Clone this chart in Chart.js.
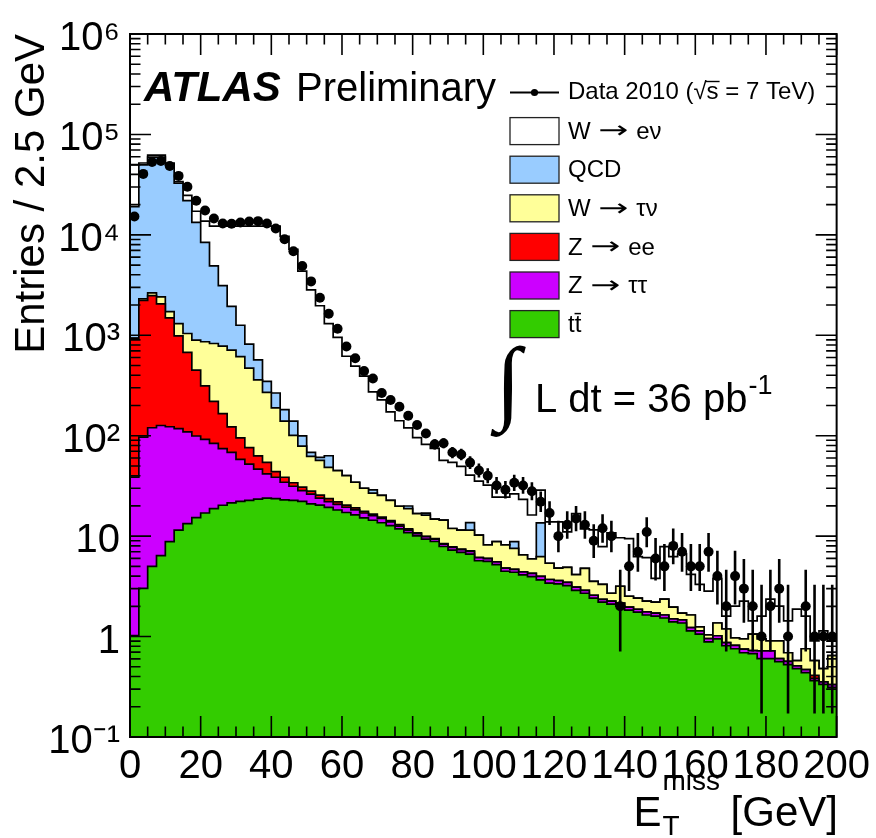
<!DOCTYPE html>
<html>
<head>
<meta charset="utf-8">
<script src="https://cdn.jsdelivr.net/npm/chart.js@4/dist/chart.umd.min.js"></script>
<style>
html,body{margin:0;padding:0;background:#fff;}
#wrap{position:relative;width:876px;height:838px;}
</style>
</head>
<body>
<div id="wrap"><canvas id="c" width="876" height="838"></canvas></div>
<script>
// ---------------- data ----------------
const binWidth = 2.5;            // GeV
const nBins = 80;                // 0 .. 200 GeV
const binEdges = Array.from({length: nBins + 1}, (_, i) => i * binWidth);
const binCenters = binEdges.slice(0, nBins).map(e => e + binWidth / 2);

const xTickValues = [0, 20, 40, 60, 80, 100, 120, 140, 160, 180, 200];
const xTickLabels = ['0', '20', '40', '60', '80', '100', '120', '140', '160', '180', '200'];
const yTickValues = [0.1, 1, 10, 100, 1e3, 1e4, 1e5, 1e6];
const yTickLabels = ['10\u207B\u00B9', '1', '10', '10\u00B2', '10\u00B3', '10\u2074', '10\u2075', '10\u2076'];

const dataCounts = [15240, 40460, 53200, 54370, 48500, 38650, 30100, 21900, 17450, 14560,
  13000, 12900, 13290, 13600, 13700, 13000, 11590, 9030, 6870, 4890,
  3440, 2360, 1640, 1160, 774, 590, 440, 372, 266, 227,
  194, 158, 128, 105, 82, 84, 68, 65, 54, 45,
  40, 32, 29, 34, 32, 28, 22, 17, 10, 13,
  15, 13, 9, 12, 10, 2, 5, 7, 11, 6,
  5, 8, 7, 5, 5, 7, 4, 2, 4, 3,
  2, 1, 2, 3, 1, 0, 2, 1, 1, 1];

const ttbar = [1.02, 3.02, 4.99, 6.4, 8.8, 11.5, 13.3, 15.3, 17.0, 18.8,
  20.3, 21.4, 22.2, 22.7, 23.4, 23.9, 23.6, 23.0, 22.7, 22.2,
  21.0, 20.4, 19.3, 18.2, 17.2, 16.3, 15.2, 14.4, 13.6, 12.7,
  11.8, 10.85, 10.05, 9.32, 8.84, 7.89, 7.26, 6.89, 6.63, 5.69,
  5.62, 5.2, 4.47, 4.37, 4.11, 3.96, 3.67, 3.4, 3.35, 3.22,
  2.88, 2.70, 2.41, 2.20, 2.10, 2.01, 1.835, 1.75, 1.64, 1.60,
  1.53, 1.40, 1.365, 1.14, 1.06, 0.886, 0.949, 0.81, 0.756, 0.69,
  0.675, 0.602, 0.602, 0.562, 0.525, 0.48, 0.438, 0.365, 0.334, 0.312];

const ztautau = [37.6, 94, 115, 120, 114, 106, 96, 84, 75, 65,
  54, 47, 36, 29.5, 23, 17.7, 15, 11.4, 8.7, 6.2,
  5.2, 3.5, 2.8, 2.5, 2.2, 2.0, 1.8, 1.6, 1.4, 1.2,
  0.8, 0.65, 0.55, 0.55, 0.5, 0.45, 0.45, 0.45, 0.4, 0.4,
  0.35, 0.35, 0.33, 0.3, 0.3, 0.3, 0.3, 0.3, 0.25, 0.25,
  0.22, 0.19, 0.17, 0.15, 0.15, 0.14, 0.13, 0.12, 0.12, 0.11,
  0.11, 0.10, 0.10, 0.09, 0.08, 0.07, 0.07, 0.06, 0.06, 0.06,
  0.05, 0.12, 0.12, 0.04, 0.04, 0.03, 0.03, 0.018, 0.02, 0.02];

const zee = [891, 2124, 2368, 1933, 1365, 871, 567, 350, 222, 136,
  92, 54, 37, 24, 16.6, 12.6, 5.3, 4.2, 2.6, 2.3,
  1.9, 1.7, 1.5, 1.2, 1.0, 0.8, 0.7, 0.6, 0.5, 0.4,
  0.4, 0.3, 0.2, 0.1, 0.1, 0.1, 0.1, 0.1, 0.1, 0.05,
  0.03, 0, 0, 0, 0, 0, 0, 0, 0, 0,
  0, 0, 0, 0, 0, 0, 0, 0, 0, 0,
  0, 0, 0, 0, 0, 0, 0, 0, 0, 0,
  0, 0, 0, 0, 0, 0, 0, 0.027, 0, 0];

const wtaunu = [10, 87, 158, 355, 230, 320, 365, 445, 548, 609,
  614, 590, 518, 394, 297, 216, 145.5, 101.4, 66.9, 48.2,
  34.1, 31.2, 24.8, 23, 19.7, 15.3, 12.3, 10.2, 10.0, 8.4,
  6.85, 7.0, 5.95, 6.2, 5.3, 6.0, 4.1, 4.06, 4.37, 4.1,
  2.2, 3.25, 3.37, 2.9, 2.1, 1.68, 2.29, 1.67, 1.2, 1.41,
  1.03, 1.88, 0.97, 0.96, 0.45, 1.02, 0.555, 0.54, 0.49, 0.49,
  0.72, 0.465, 0.245, 0.41, 0.107, 0.084, 0.346, 0.32, 0.155, 0.2,
  0.335, 0.227, 0.185, 0.305, 0.125, 0.065, 0.288, 0.165, 0.126, 0.313];

const qcd = [18190, 47340, 56910, 57145, 47930, 31450, 20870, 12400, 7570, 4090,
  2343, 1224, 645, 347, 208, 77, 77, 42, 39, 20.6,
  5.9, 4.0, 14.8, 0, 0, 0, 0, 2.1, 0, 0,
  0, 1.15, 0, 0.8, 0, 0, 0, 0, 2.15, 0,
  0, 0, 0, 1.24, 0, 0, 7.3, 0, 0, 0,
  0, 0, 0, 0, 0, 0, 0, 0, 0, 0,
  0, 0, 0, 0, 0, 0, 0, 0, 0, 0,
  0, 0, 0, 0, 0, 0, 0, 0, 0, 0];

const wenu = [30530, 2320, 2780, 2780, 2320, 1210, 2800, 3885, 5250, 7295,
  9092, 10280, 10957, 11400, 11650, 11870, 11950, 9484, 7053, 4262,
  2764, 1907, 1245, 907, 578, 458, 362, 244, 202, 150,
  121, 100, 79, 65, 60, 42.4, 42.3, 38, 26.8, 25,
  24, 15.7, 16.3, 17.6, 16.7, 10.3, 15.1, 8.5, 9.1, 6.17,
  12.6, 7.03, 8.02, 4.55, 8.1, 6.47, 6.91, 3.85, 3.87, 1.6,
  5.5, 4.3, 4.99, 2.52, 2.06, 1.79, 2.435, 0.41, 1.04, 1.3,
  0.37, 0.65, 1.45, 1.1, 0.74, 1.3, 0.84, 0.33, 0.66, 0.26];

// stacking order (bottom first)
const sampleLabels = ['t\u0074\u0304', 'Z \u2192 \u03C4\u03C4', 'Z \u2192 ee', 'W \u2192 \u03C4\u03BD', 'QCD', 'W \u2192 e\u03BD'];
const sampleColors = ['#33cc00', '#cc00ff', '#ff0000', '#ffff99', '#99ccff', '#ffffff'];
const sampleValues = [ttbar, ztautau, zee, wtaunu, qcd, wenu];
const dataLabel = 'Data 2010';

// ---------------- build datasets ----------------
const FONT = "'Liberation Sans', Arial, Helvetica, sans-serif";

let running = new Array(nBins).fill(0);
const stackDatasets = sampleValues.map((vals, k) => {
  running = running.map((v, i) => v + vals[i]);
  const pts = running.map((v, i) => ({x: binEdges[i], y: v}));
  pts.push({x: binEdges[nBins], y: running[nBins - 1]});
  return {
    type: 'line', label: sampleLabels[k], data: pts,
    stepped: 'before', fill: 'start', tension: 0,
    backgroundColor: sampleColors[k], borderColor: '#000', borderWidth: 1.7,
    pointRadius: 0, pointHoverRadius: 0
  };
});

const dataPoints = [];
dataCounts.forEach((n, i) => { if (n > 0) dataPoints.push({x: binCenters[i], y: n}); });

const dataDataset = {
  type: 'scatter', label: dataLabel, data: dataPoints,
  pointRadius: 5, pointBackgroundColor: '#000', pointBorderWidth: 0, showLine: false
};

// Garwood (Poisson) 68% interval, Wilson-Hilferty form
function poissonInterval(n) {
  const lo = n * Math.pow(1 - 1 / (9 * n) - 1 / (3 * Math.sqrt(n)), 3);
  const m = n + 1;
  const hi = m * Math.pow(1 - 1 / (9 * m) + 1 / (3 * Math.sqrt(m)), 3);
  return [lo, hi];
}

const errorBars = {
  id: 'errorBars',
  afterDatasetsDraw(chart) {
    const {ctx, chartArea: a, scales: {x, y}} = chart;
    ctx.save();
    ctx.beginPath(); ctx.rect(a.left, a.top, a.right - a.left, a.bottom - a.top); ctx.clip();
    ctx.strokeStyle = '#000'; ctx.lineWidth = 2.6;
    dataCounts.forEach((n, i) => {
      if (n <= 0) return;
      const [lo, hi] = poissonInterval(n);
      const px = x.getPixelForValue(binCenters[i]);
      const yTop = y.getPixelForValue(hi);
      const yBot = lo > y.min ? y.getPixelForValue(lo) : a.bottom;
      ctx.beginPath(); ctx.moveTo(px, yTop); ctx.lineTo(px, yBot); ctx.stroke();
    });
    ctx.restore();
  }
};

// ROOT-style frame with inward ticks
const frameTicks = {
  id: 'frameTicks',
  afterDraw(chart) {
    const {ctx, chartArea: a, scales: {x, y}} = chart;
    ctx.save();
    ctx.strokeStyle = '#000'; ctx.lineWidth = 1.6;
    ctx.beginPath();
    for (let v = 0; v <= 200; v += 5) {
      const px = x.getPixelForValue(v);
      const L = (v % 20 === 0) ? 21 : 10.5;
      ctx.moveTo(px, a.bottom); ctx.lineTo(px, a.bottom - L);
      ctx.moveTo(px, a.top); ctx.lineTo(px, a.top + L);
    }
    for (let e = -1; e <= 5; e++) {
      for (let k = 1; k <= 10; k++) {
        const v = k * Math.pow(10, e);
        const py = y.getPixelForValue(v);
        const L = (k === 1 || k === 10) ? 21 : 10.5;
        ctx.moveTo(a.left, py); ctx.lineTo(a.left + L, py);
        ctx.moveTo(a.right, py); ctx.lineTo(a.right - L, py);
      }
    }
    ctx.stroke();
    ctx.lineWidth = 2;
    ctx.strokeRect(a.left, a.top, a.right - a.left, a.bottom - a.top);
    ctx.restore();
  }
};

// draw a label, rendering the arrow wider (like ROOT's #rightarrow)
function drawLabel(ctx, text, x, y) {
  const parts = text.split('\u2192');
  let cx = x;
  parts.forEach((p, k) => {
    ctx.font = `24px ${FONT}`;
    ctx.fillText(p, cx, y);
    cx += ctx.measureText(p).width;
    if (k < parts.length - 1) {
      ctx.save();
      ctx.font = `24px 'DejaVu Sans'`;
      const aw = ctx.measureText('\u2192').width;
      ctx.translate(cx + 1, y);
      ctx.scale(1.5, 1);
      ctx.fillText('\u2192', 0, 0);
      ctx.restore();
      cx += aw * 1.5 + 2;
    }
  });
}

// legend, labels and axis title drawn as text
const annotations = {
  id: 'annotations',
  afterDraw(chart) {
    const ctx = chart.ctx;
    ctx.save();
    ctx.fillStyle = '#000'; ctx.strokeStyle = '#000';
    ctx.textBaseline = 'alphabetic'; ctx.textAlign = 'left';

    // ATLAS Preliminary
    ctx.font = `italic bold 42px ${FONT}`;
    ctx.fillText('ATLAS', 144, 101);
    ctx.font = `40px ${FONT}`;
    ctx.fillText('Preliminary', 296, 101);

    // legend
    const boxX = 510, boxW = 49, boxH = 27, textX = 568, row0 = 92.5, step = 38.6;
    ctx.font = `24px ${FONT}`; ctx.textBaseline = 'middle';
    ctx.lineWidth = 2;
    ctx.beginPath(); ctx.moveTo(boxX, row0); ctx.lineTo(boxX + boxW, row0); ctx.stroke();
    ctx.beginPath(); ctx.arc(boxX + boxW / 2, row0, 3.6, 0, 2 * Math.PI); ctx.fill();
    // "Data 2010 (√s = 7 TeV)"
    let tx = textX;
    const part1 = dataLabel + ' (';
    ctx.fillText(part1, tx, row0); tx += ctx.measureText(part1).width;
    ctx.fillText('\u221A', tx, row0); const rootW = ctx.measureText('\u221A').width; tx += rootW;
    ctx.fillText('s', tx, row0); const sW = ctx.measureText('s').width;
    ctx.lineWidth = 1.4; ctx.beginPath(); ctx.moveTo(tx - 1, row0 - 11); ctx.lineTo(tx + sW + 1, row0 - 11); ctx.stroke();
    tx += sW;
    ctx.fillText(' = 7 TeV)', tx, row0);

    const stacks = chart.data.datasets.slice(1).reverse();
    stacks.forEach((ds, k) => {
      const cy = row0 + step * (k + 1);
      ctx.fillStyle = ds.backgroundColor;
      ctx.fillRect(boxX, cy - boxH / 2, boxW, boxH);
      ctx.lineWidth = 1.3; ctx.strokeStyle = '#222';
      ctx.strokeRect(boxX, cy - boxH / 2, boxW, boxH);
      ctx.fillStyle = '#000';
      drawLabel(ctx, ds.label, textX, cy + 1);
    });

    // integrated luminosity: integral sign fitted to y 345..437
    ctx.textBaseline = 'alphabetic';
    ctx.textAlign = 'left';
    ctx.font = `100px 'Liberation Serif'`;
    const im = ctx.measureText('\u222B');
    const ih = im.actualBoundingBoxAscent + im.actualBoundingBoxDescent;
    const isz = 100 * 92 / ih;
    const iScale = isz / 100;
    ctx.font = `${isz}px 'Liberation Serif'`;
    const iLeft = -im.actualBoundingBoxLeft * iScale;
    const iW = (im.actualBoundingBoxRight + im.actualBoundingBoxLeft) * iScale;
    ctx.fillText('\u222B', 508 - iW / 2 - iLeft, 345 + im.actualBoundingBoxAscent * iScale);
    ctx.font = `40px ${FONT}`;
    ctx.fillText('L dt = 36 pb', 535, 412);
    const lw = ctx.measureText('L dt = 36 pb').width;
    ctx.font = `27px ${FONT}`;
    ctx.fillText('-1', 535 + lw + 1, 394);

    // x-axis title  E_T^miss [GeV]
    const big = 42, small = 28, right = 838, base = 826;
    ctx.font = `${big}px ${FONT}`;
    const wE = ctx.measureText('E').width;
    const wG = ctx.measureText(' [GeV]').width;
    ctx.font = `${small}px ${FONT}`;
    const wMiss = ctx.measureText('miss').width;
    const wT = ctx.measureText('T').width;
    const mid = Math.max(wMiss, wT);
    const start = right - (wE + mid + wG);
    ctx.font = `${big}px ${FONT}`;
    ctx.fillText('E', start, base);
    ctx.fillText(' [GeV]', start + wE + mid, base);
    ctx.font = `${small}px ${FONT}`;
    ctx.fillText('miss', start + wE + 1, base - 36);
    ctx.fillText('T', start + wE + 1, base + 9);
    ctx.restore();
  }
};

const config = {
  type: 'scatter',
  data: { datasets: [dataDataset, ...stackDatasets] },
  options: {
    responsive: false,
    animation: false,
    devicePixelRatio: 1,
    layout: { padding: { top: 28, right: 38, left: 0, bottom: 0 } },
    plugins: { legend: { display: false }, tooltip: { enabled: false } },
    scales: {
      x: {
        type: 'linear', min: 0, max: 200, position: 'bottom',
        grid: { display: false, drawTicks: false }, border: { display: false },
        afterBuildTicks: s => { s.ticks = xTickValues.map(v => ({value: v})); },
        afterFit: s => { s.height = 101; },
        ticks: {
          autoSkip: false, maxRotation: 0, minRotation: 0, padding: 6, color: '#000',
          font: { family: FONT, size: 40 },
          callback: (v, i) => xTickLabels[i]
        }
      },
      y: {
        type: 'logarithmic', min: 0.1, max: 1e6, position: 'left',
        grid: { display: false, drawTicks: false }, border: { display: false },
        afterBuildTicks: s => { s.ticks = yTickValues.map(v => ({value: v})); },
        afterFit: s => { s.width = 130; },
        ticks: {
          autoSkip: false, padding: 10, labelOffset: 5, color: '#000',
          font: { family: FONT, size: 40 },
          callback: (v, i) => yTickLabels[i]
        },
        title: {
          display: true, text: 'Entries / 2.5 GeV', align: 'end', color: '#000',
          font: { family: FONT, size: 42 }, padding: { top: 7, bottom: 0 }
        }
      }
    }
  },
  plugins: [errorBars, frameTicks, annotations]
};

new Chart(document.getElementById('c'), config);
</script>
</body>
</html>
